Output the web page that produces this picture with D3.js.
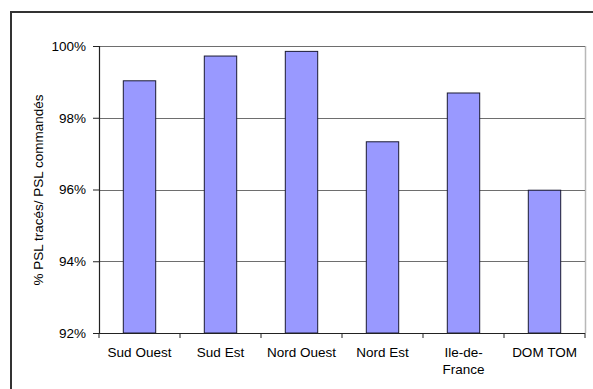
<!DOCTYPE html>
<html>
<head>
<meta charset="utf-8">
<script src="https://cdn.jsdelivr.net/npm/d3@7"></script>
<style>
  html, body { margin: 0; padding: 0; background: #fff; }
  svg { display: block; }
  text { font-family: "Liberation Sans", Arial, sans-serif; font-size: 13.5px; fill: #000; }
</style>
</head>
<body>
<svg id="chart" width="593" height="389"></svg>
<script>
const categories = ["Sud Ouest", "Sud Est", "Nord Ouest", "Nord Est", "Ile-de-France", "DOM TOM"];
const categoryLabels = [["Sud Ouest"], ["Sud Est"], ["Nord Ouest"], ["Nord Est"], ["Ile-de-", "France"], ["DOM TOM"]];
const values = [99.03, 99.72, 99.85, 97.33, 98.69, 95.98];
const yTicks = [92, 94, 96, 98, 100];
const yLabel = "% PSL tracés/ PSL commandés";

const svg = d3.select("#chart");
const plot = { left: 99, right: 585, top: 46, bottom: 333 };

// outer chart border (only left/top visible)
svg.append("rect")
  .attr("x", 11).attr("y", 12)
  .attr("width", 600).attr("height", 400)
  .attr("fill", "#fff").attr("stroke", "#333").attr("stroke-width", 2);

const x = d3.scaleBand().domain(categories)
  .range([plot.left, plot.right]).paddingInner(0.6).paddingOuter(0.3);
const y = d3.scaleLinear().domain([92, 100]).range([plot.bottom, plot.top]);

// plot area right border
svg.append("line")
  .attr("x1", plot.right + 0.5).attr("x2", plot.right + 0.5)
  .attr("y1", plot.top).attr("y2", plot.bottom)
  .attr("stroke", "#b8b8b8").attr("stroke-width", 1.5);

// gridlines
svg.append("g").selectAll("line").data(yTicks.filter(d => d !== 92)).join("line")
  .attr("x1", plot.left).attr("x2", plot.right)
  .attr("y1", d => Math.round(y(d)) + 0.5).attr("y2", d => Math.round(y(d)) + 0.5)
  .attr("stroke", "#6e6e6e").attr("stroke-width", 1.2);

// bars
svg.append("g").selectAll("rect").data(values).join("rect")
  .attr("x", (d, i) => x(categories[i]))
  .attr("y", d => y(d))
  .attr("width", x.bandwidth())
  .attr("height", d => y(92) - y(d))
  .attr("fill", "#9999ff")
  .attr("stroke", "#1a1a33").attr("stroke-width", 1);

// y axis
const yAxis = d3.axisLeft(y).tickValues(yTicks).tickFormat(d => d + "%").tickSize(6).tickPadding(7);
const gy = svg.append("g").attr("transform", `translate(${plot.left},0)`).call(yAxis);
gy.select(".domain").attr("stroke", "#222").attr("stroke-width", 1.2);
gy.selectAll(".tick line").attr("stroke", "#222");
gy.selectAll("text").attr("fill", "#000");

// x axis line
svg.append("line")
  .attr("x1", plot.left).attr("x2", plot.right)
  .attr("y1", plot.bottom + 0.5).attr("y2", plot.bottom + 0.5)
  .attr("stroke", "#222").attr("stroke-width", 1.2);

// x ticks at category boundaries
const step = x.step();
const boundaries = d3.range(categories.length + 1).map(i => plot.left + i * step);
svg.append("g").selectAll("line").data(boundaries).join("line")
  .attr("x1", d => d).attr("x2", d => d)
  .attr("y1", plot.bottom).attr("y2", plot.bottom + 5)
  .attr("stroke", "#222").attr("stroke-width", 1);

// x labels
const xl = svg.append("g").selectAll("text").data(categories).join("text")
  .attr("text-anchor", "middle")
  .attr("transform", d => `translate(${x(d) + x.bandwidth() / 2},357)`);
xl.each(function(d, i) {
  d3.select(this).selectAll("tspan").data(categoryLabels[i]).join("tspan")
    .attr("x", 0).attr("y", (t, j) => j * 17).text(t => t);
});

// y label
svg.append("text")
  .attr("text-anchor", "middle")
  .attr("transform", `translate(43,190) rotate(-90)`)
  .text(yLabel);
</script>
</body>
</html>
